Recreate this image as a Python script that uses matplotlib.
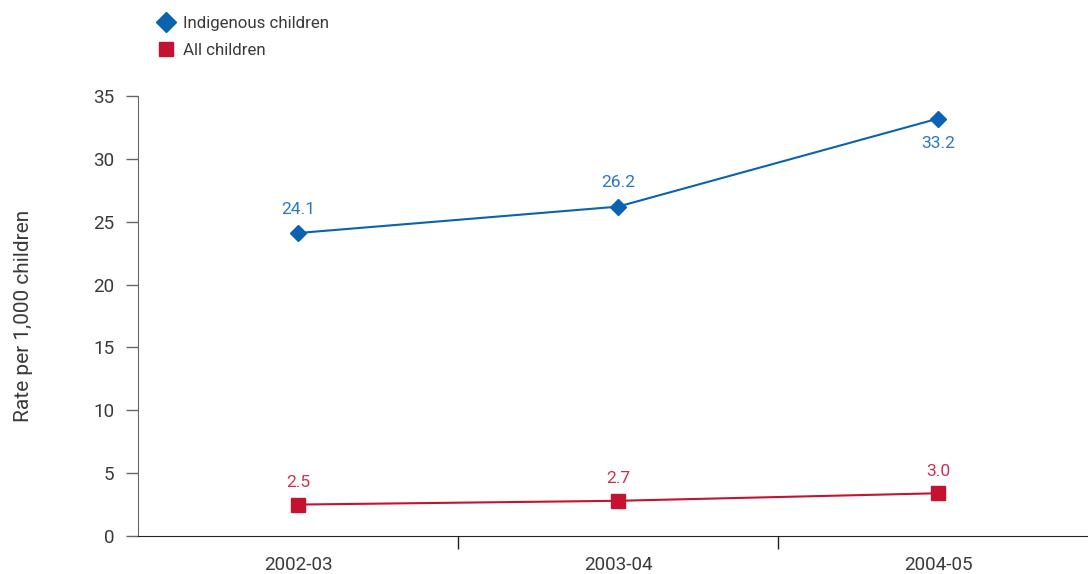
import matplotlib.pyplot as plt
from matplotlib.lines import Line2D

# -------------------------------
# Data
# -------------------------------
years = ["2002-03", "2003-04", "2004-05"]
indigenous = [24.1, 26.2, 33.2]
indigenous_labels = ["24.1", "26.2", "33.2"]
all_children = [2.5, 2.8, 3.4]
all_labels = ["2.5", "2.7", "3.0"]

blue = "#0a63b0"
red = "#c41230"
blue_txt = "#2b78bf"
red_txt = "#d0304f"
grey = "#3a3a3a"

plt.rcParams["font.family"] = ["Roboto", "DejaVu Sans"]

fig = plt.figure(figsize=(10.88, 5.74), dpi=100)
ax = fig.add_axes([138 / 1088, 1 - 536 / 574, 960 / 1088, 440 / 574])

x = list(range(len(years)))
ax.plot(x, indigenous, color=blue, lw=1.5, marker="D", ms=8.5,
        markeredgecolor=blue, zorder=3)
ax.plot(x, all_children, color=red, lw=1.5, marker="s", ms=10,
        markeredgecolor=red, zorder=3)

# value labels
for i, (v, t) in enumerate(zip(indigenous, indigenous_labels)):
    off = -25 if i == len(indigenous) - 1 else 24
    ax.annotate(t, (i, v), xytext=(0, off), textcoords="offset pixels",
                ha="center", va="center", color=blue_txt, fontsize=12.6)
for i, (v, t) in enumerate(zip(all_children, all_labels)):
    ax.annotate(t, (i, v), xytext=(0, 22), textcoords="offset pixels",
                ha="center", va="center", color=red_txt, fontsize=12.6)

ax.set_xlim(-0.5, 2.5)
ax.set_ylim(0, 35)
ax.set_yticks(range(0, 36, 5))

# ticks at category boundaries, labels at centres
ax.set_xticks([0.5, 1.5, 2.5])
ax.set_xticklabels([])
ax.set_xticks(x, minor=True)
ax.set_xticklabels(years, minor=True)
ax.tick_params(axis="x", which="major", direction="out", length=9,
               width=1, color="#222222")
ax.tick_params(axis="x", which="minor", length=0, pad=14.5,
               labelsize=13.6, labelcolor=grey)
ax.tick_params(axis="y", direction="out", length=9, width=1,
               color="#666666", pad=8, labelsize=13.6, labelcolor=grey)

ax.spines["top"].set_visible(False)
ax.spines["right"].set_visible(False)
ax.spines["left"].set_color("#666666")
ax.spines["bottom"].set_color("#222222")

ax.set_ylabel("Rate per 1,000 children", fontsize=15, color=grey,
              labelpad=43)

handles = [
    Line2D([], [], color=blue, marker="D", ls="none", ms=10.5),
    Line2D([], [], color=red, marker="s", ls="none", ms=9.5),
]
fig.legend(handles, ["Indigenous children", "All children"],
           loc="upper left", bbox_to_anchor=(141 / 1088, 1 - 1 / 574),
           frameon=False, handletextpad=0.4, labelspacing=0.68,
           labelcolor=grey, handlelength=1.2, prop={"size": 12.2})

plt.savefig("out.png", dpi=100)
plt.close()
